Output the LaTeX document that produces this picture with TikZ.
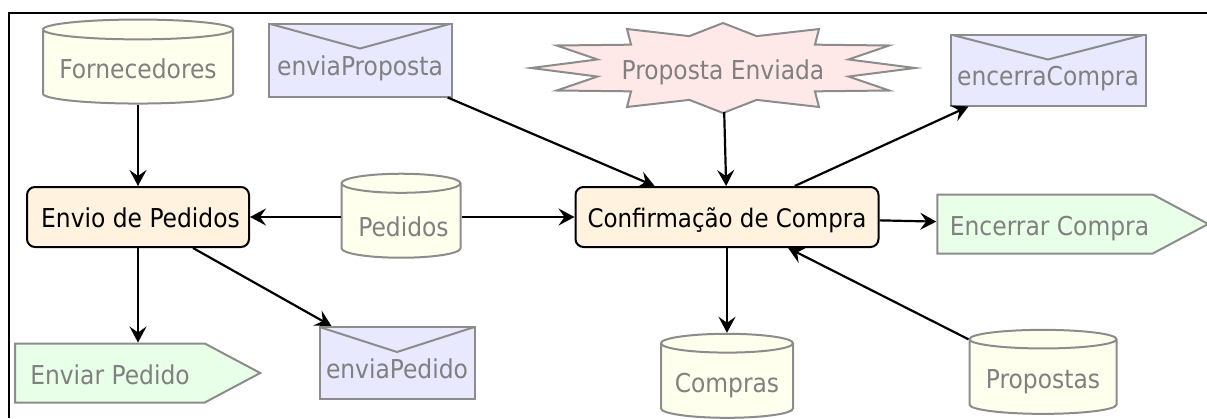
\documentclass[tikz,border=0pt]{standalone}
\usepackage{fontspec}
\setmainfont{DejaVu Sans Condensed}
\usetikzlibrary{shapes,arrows.meta}

\definecolor{linegray}{HTML}{8C8C8C}
\definecolor{textgray}{HTML}{808080}
\definecolor{dbfill}{HTML}{FFFFEE}
\definecolor{mailfill}{HTML}{E8E8FF}
\definecolor{burstfill}{HTML}{FFE8E8}
\definecolor{signalfill}{HTML}{E8FFE8}
\definecolor{procfill}{HTML}{FFF3DF}

\tikzset{
  base/.style={inner sep=0pt,font=\fontsize{26}{28}\selectfont,text=textgray},
  proc/.style={base,draw=black,line width=2pt,fill=procfill,rounded corners=8pt,
    text=black,minimum height=60pt,text height=21pt,text depth=0pt},
  db/.style={base,cylinder,shape border rotate=90,draw=linegray,line width=2pt,fill=dbfill,
    cylinder uses custom fill,cylinder body fill=dbfill,cylinder end fill=dbfill,
    minimum height=84pt,text height=23pt,text depth=0pt},
  mailbox/.style={base,draw=linegray,line width=2pt,fill=mailfill,
    text height=30pt,text depth=0pt,
    path picture={\draw[linegray,line width=2pt]
      (path picture bounding box.north west)
      -- ([yshift=-25pt]path picture bounding box.north)
      -- (path picture bounding box.north east);}},
  sendbox/.style={base,signal,signal to=east,signal from=nowhere,draw=linegray,line width=2pt,
    fill=signalfill,minimum height=59pt,signal pointer angle=56,text height=22pt,text depth=0pt},
  burstbox/.style={draw=linegray,line width=2pt,fill=burstfill,line join=miter},
  flow/.style={-{Stealth[length=16pt,width=17pt,inset=6pt]},line width=2.2pt,black},
}

\begin{document}
\begin{tikzpicture}[x=1pt,y=-1pt]
  \useasboundingbox (0,0) rectangle (1207,418);
  % frame
  \draw[line width=2.6pt] (9,418) -- (9,13) -- (1207,13);

  \node[db,minimum width=190pt,aspect=0.126] (forn) at (138,67) {Fornecedores};
  \node[db,minimum width=119pt,aspect=0.2,text height=30pt] (pedidos) at (401,221) {\hspace{5pt}Pedidos};
  \node[db,minimum width=132pt,aspect=0.18] (compras) at (727,381) {Compras};
  \node[db,minimum width=147pt,aspect=0.163] (propostas) at (1043,377) {Propostas};

  \node[mailbox,minimum width=183pt,minimum height=73pt] (enviaprop) at (360,60) {enviaProposta};
  \node[mailbox,minimum width=195pt,minimum height=71pt] (encerra) at (1048,70) {encerraCompra};
  \node[mailbox,minimum width=155pt,minimum height=72pt] (enviaped) at (397,363) {enviaPedido};

  % estrela
  \draw[burstbox,shift={(723,68)}] (0:192 and 45)
    \foreach \a in {30,60,...,330} { -- (\a-15:130 and 33) -- (\a:192 and 45) }
    -- (345:130 and 33) -- cycle;
  \node[base,minimum width=200pt,minimum height=88pt,text height=22pt,text depth=0pt] (burst) at (723,68) {Proposta Enviada};

  \node[proc,minimum width=222pt] (envio) at (138,217) {\hspace{5pt}Envio de Pedidos};
  \node[proc,minimum width=303pt,font=\fontsize{25.5}{28}\selectfont] (conf) at (727,217) {Confirmação de Compra};

  \node[sendbox,minimum width=245pt] (enviar) at (110,373) {Enviar Pedido};
  \node[sendbox,minimum width=271pt] (encerrar) at (1045,224) {\hspace{9pt}Encerrar Compra};

  \draw[flow] (forn) -- (envio);
  \draw[flow] (pedidos.west |- envio) -- (envio);
  \draw[flow] (pedidos.east |- conf) -- (conf);
  \draw[flow] (envio.south) -- (envio.south |- enviar.north);
  \draw[flow] (envio) -- (enviaped);
  \draw[flow] (enviaprop) -- (conf);
  \draw[flow] (burst) -- (conf);
  \draw[flow] (conf) -- (encerra);
  \draw[flow] (conf) -- (encerrar);
  \draw[flow] (conf) -- (compras);
  \draw[flow] (propostas) -- (conf);
\end{tikzpicture}
\end{document}
